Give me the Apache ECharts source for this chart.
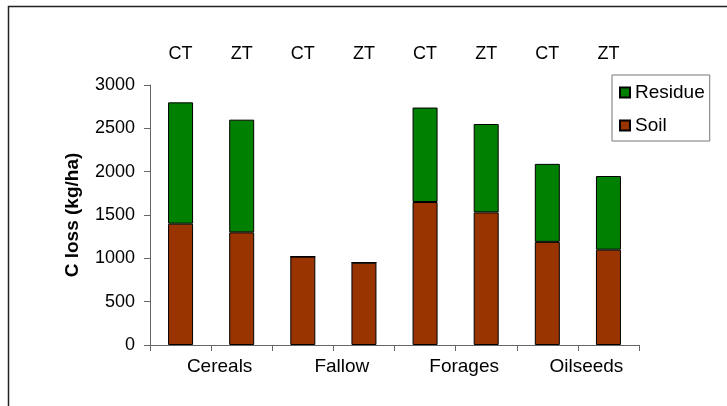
<!DOCTYPE html>
<html>
<head>
<meta charset="utf-8">
<script src="https://cdn.jsdelivr.net/npm/echarts@6/dist/echarts.min.js"></script>
<style>html,body{margin:0;padding:0;background:#fff;}#c{width:727px;height:406px;}</style>
</head>
<body>
<div id="c"></div>
<script>
const tillage = ['CT','ZT','CT','ZT','CT','ZT','CT','ZT'];
const crops = ['Cereals','Fallow','Forages','Oilseeds'];
const soil = [1400, 1300, 1020, 950, 1650, 1530, 1190, 1100];
const residue = [1400, 1300, 0, 0, 1090, 1020, 900, 850];
const yTicks = [0, 500, 1000, 1500, 2000, 2500, 3000];

const font = 'Liberation Sans, Arial, sans-serif';
const chart = echarts.init(document.getElementById('c'), null, {renderer: 'canvas'});
const axisColor = '#666';
chart.setOption({
  animation: false,
  backgroundColor: '#fff',
  textStyle: {fontFamily: font},
  graphic: [{
    type: 'rect', shape: {x: 8.5, y: 6.5, width: 740, height: 440},
    style: {fill: 'none', stroke: '#222', lineWidth: 1.5}, silent: true
  }],
  grid: {left: 150, right: 88, top: 85, bottom: 61, containLabel: false},
  legend: {
    data: ['Residue', 'Soil'],
    orient: 'vertical', left: 612, top: 75,
    itemWidth: 10, itemHeight: 10, itemGap: 14,
    padding: [8, 5, 6, 7],
    borderColor: '#777', borderWidth: 1,
    textStyle: {fontSize: 19, color: '#000', fontFamily: font},
    icon: 'rect'
  },
  xAxis: [
    {
      type: 'category', data: tillage, position: 'bottom', gridIndex: 0,
      axisLine: {lineStyle: {color: axisColor, width: 1}},
      axisTick: {show: true, alignWithLabel: false, length: 6, lineStyle: {color: axisColor}},
      axisLabel: {show: false}
    },
    {
      type: 'category', data: crops, position: 'bottom', gridIndex: 0,
      axisLine: {show: false}, axisTick: {show: false},
      axisLabel: {fontSize: 19, color: '#000', margin: 12, fontFamily: font, padding: [0, 0, 0, 17]}
    },
    {
      type: 'category', data: tillage, position: 'top', gridIndex: 0,
      axisLine: {show: false}, axisTick: {show: false},
      axisLabel: {fontSize: 18, color: '#000', margin: 22, fontFamily: font}
    }
  ],
  yAxis: {
    type: 'value', min: yTicks[0], max: yTicks[yTicks.length - 1], interval: 500,
    name: 'C loss (kg/ha)', nameLocation: 'middle', nameGap: 68, nameRotate: 90,
    nameTextStyle: {fontSize: 19, fontWeight: 'bold', color: '#000', fontFamily: font},
    axisLine: {show: true, lineStyle: {color: axisColor, width: 1}},
    axisTick: {show: true, length: 6, lineStyle: {color: axisColor}},
    axisLabel: {fontSize: 18, color: '#000', margin: 15, fontFamily: font, formatter: v => String(v)},
    splitLine: {show: false}
  },
  series: [
    {
      name: 'Soil', type: 'bar', stack: 'total', data: soil, barWidth: 25,
      itemStyle: {color: '#993300', borderColor: '#000', borderWidth: 1}
    },
    {
      name: 'Residue', type: 'bar', stack: 'total', data: residue, barWidth: 25,
      itemStyle: {color: '#008000', borderColor: '#000', borderWidth: 1}
    }
  ]
});
</script>
</body>
</html>
